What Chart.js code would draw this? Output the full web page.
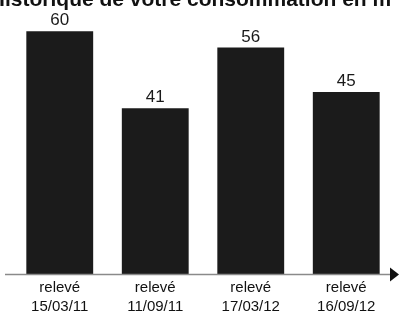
<!DOCTYPE html>
<html>
<head>
<meta charset="utf-8">
<script src="https://cdn.jsdelivr.net/npm/chart.js@4/dist/chart.umd.min.js"></script>
<style>
  body { margin: 0; background: #fff; }
  canvas { display: block; }
</style>
</head>
<body>
<canvas id="barChart" width="399" height="318"></canvas>
<script>
// values
var titre = 'Historique de votre consommation en m³';
var releves = ['relevé', 'relevé', 'relevé', 'relevé'];
var dates = ['15/03/11', '11/09/11', '17/03/12', '16/09/12'];
var conso = [60, 41, 56, 45];

var labels = releves.map(function (r, i) { return [r, dates[i]]; });

// title (cut off at top), value labels and axis arrow
var extras = {
    id: 'extras',
    afterDatasetsDraw: function (chart) {
        var ctx = chart.ctx;
        var area = chart.chartArea;
        var meta = chart.getDatasetMeta(0);
        ctx.save();
        ctx.fillStyle = '#1a1a1a';
        ctx.font = '17px "Liberation Sans", Arial, sans-serif';
        ctx.textAlign = 'center';
        ctx.textBaseline = 'alphabetic';
        meta.data.forEach(function (bar, i) {
            ctx.fillText(conso[i], bar.x, bar.y - 6);
        });

        ctx.font = 'bold 21px "Liberation Sans", Arial, sans-serif';
        ctx.fillStyle = '#111';
        ctx.fillText(titre, 194, 6);

        // axis line with arrow
        var y = area.bottom;
        ctx.strokeStyle = '#8a8a8a';
        ctx.lineWidth = 1.5;
        ctx.beginPath();
        ctx.moveTo(5, y);
        ctx.lineTo(392, y);
        ctx.stroke();
        ctx.fillStyle = '#111';
        ctx.beginPath();
        ctx.moveTo(390, y - 7);
        ctx.lineTo(399, y);
        ctx.lineTo(390, y + 7);
        ctx.closePath();
        ctx.fill();
        ctx.restore();
    }
};

var ctx = document.getElementById('barChart').getContext('2d');
new Chart(ctx, {
    type: 'bar',
    data: {
        labels: labels,
        datasets: [{
            data: conso,
            backgroundColor: '#1b1b1b',
            borderWidth: 0,
            barPercentage: 0.7,
            categoryPercentage: 1.0
        }]
    },
    options: {
        responsive: false,
        animation: false,
        layout: { padding: { top: 7, left: 12, right: 5, bottom: -2 } },
        plugins: {
            legend: { display: false },
            tooltip: { enabled: false }
        },
        scales: {
            x: {
                grid: { display: false, drawTicks: false },
                border: { display: false },
                ticks: {
                    color: '#111',
                    padding: 4,
                    maxRotation: 0,
                    font: { family: '"Liberation Sans", Arial, sans-serif', size: 15, lineHeight: 1.25 }
                }
            },
            y: {
                display: false,
                min: 0,
                max: 66
            }
        }
    },
    plugins: [extras]
});
</script>
</body>
</html>
